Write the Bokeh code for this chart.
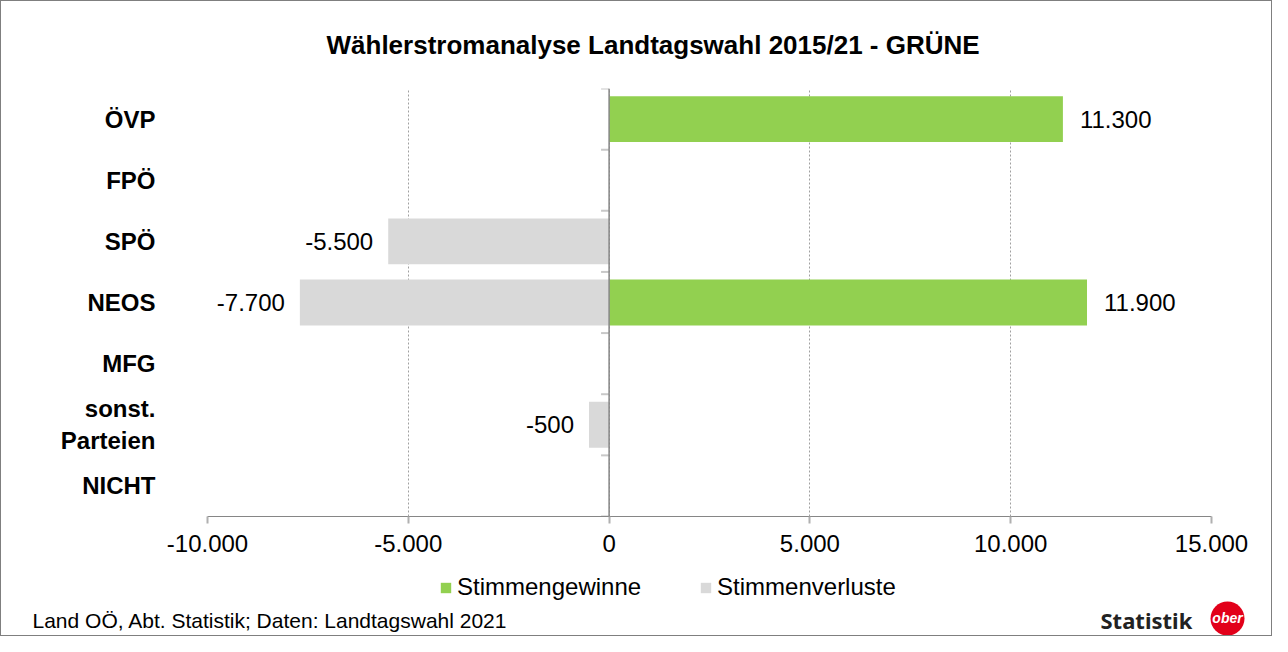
from bokeh.plotting import figure
from bokeh.models import (Range1d, FixedTicker, Span, Label, Legend, LegendItem,
                          ColumnDataSource)
from bokeh.core.properties import value
from bokeh.embed import file_html
from bokeh.resources import INLINE

# ---- data ----
categories = ["ÖVP", "FPÖ", "SPÖ", "NEOS", "MFG", "sonst.\nParteien", "NICHT"]
gains = [11300, 0, 0, 11900, 0, 0, 0]          # Stimmengewinne
losses = [0, 0, -5500, -7700, 0, -500, 0]       # Stimmenverluste
series_names = ["Stimmengewinne", "Stimmenverluste"]
x_ticks = [-10000, -5000, 0, 5000, 10000, 15000]
title_text = "Wählerstromanalyse Landtagswahl 2015/21 - GRÜNE"
source_text = "Land OÖ, Abt. Statistik; Daten: Landtagswahl 2021"

def de_fmt(v):
    return f"{v:,}".replace(",", ".")

n = len(categories)
ypos = [n - i - 0.5 for i in range(n)]
FONT = "Liberation Sans"
GREEN = "#92D050"
GREY = "#D9D9D9"
BORDER = "1px solid #7f7f7f"

W = 1272
HH, HM, HF = 69, 497, 70
ML, MR, MT, MB = 206, 62, 19, 50

def strip(height, styles):
    s = figure(width=W, height=height, output_backend="svg", toolbar_location=None,
               x_range=Range1d(0, W), y_range=Range1d(0, height),
               x_axis_type=None, y_axis_type=None,
               min_border_left=0, min_border_right=0, min_border_top=0,
               min_border_bottom=0)
    s.outline_line_color = None
    s.grid.visible = False
    s.background_fill_color = "white"
    s.border_fill_color = "white"
    s.styles = styles
    return s

# ---------------- header strip: title ----------------
h = strip(HH, {"border": BORDER, "border-bottom": "none", "box-sizing": "border-box"})
h.add_layout(Label(x=325, y=26, x_units="screen", y_units="screen",
                   text=title_text, text_align="left", text_baseline="middle",
                   text_font=FONT, text_font_style="bold", text_font_size="26px",
                   text_color="#000000"))

# ---------------- main chart ----------------
p = figure(width=W, height=HM, output_backend="svg", toolbar_location=None,
           x_range=Range1d(-10000, 15000), y_range=Range1d(0, n),
           min_border_left=ML, min_border_right=MR, min_border_top=MT,
           min_border_bottom=MB)
p.outline_line_color = None
p.background_fill_color = "white"
p.border_fill_color = "white"
p.styles = {"border-left": BORDER, "border-right": BORDER, "box-sizing": "border-box"}

# x axis
p.xaxis.ticker = FixedTicker(ticks=x_ticks)
p.xaxis.major_label_overrides = {t: de_fmt(t) for t in x_ticks}
p.xaxis.axis_line_color = "#868686"
p.xaxis.major_tick_line_color = "#b0b0b0"
p.xaxis.major_tick_line_width = 2
p.xaxis.major_tick_out = 7
p.xaxis.major_tick_in = 0
p.xaxis.minor_tick_line_color = None
p.xaxis.major_label_text_font = FONT
p.xaxis.major_label_text_font_size = "24px"
p.xaxis.major_label_text_color = "#000000"
p.xaxis.major_label_standoff = 11

# y axis (labels only)
p.yaxis.ticker = FixedTicker(ticks=ypos)
p.yaxis.major_label_overrides = {y: c for y, c in zip(ypos, categories)}
p.yaxis.axis_line_color = None
p.yaxis.major_tick_line_color = None
p.yaxis.major_tick_out = 0
p.yaxis.major_tick_in = 0
p.yaxis.minor_tick_line_color = None
p.yaxis.major_label_text_font = FONT
p.yaxis.major_label_text_font_style = "bold"
p.yaxis.major_label_text_font_size = "24px"
p.yaxis.major_label_text_color = "#000000"
p.yaxis.major_label_text_align = "right"
p.yaxis.major_label_standoff = 52

# grid
p.ygrid.grid_line_color = None
p.xgrid.ticker = FixedTicker(ticks=x_ticks)
p.xgrid.grid_line_color = "#a0a0a0"
p.xgrid.grid_line_dash = "2 2"

# bars
src = ColumnDataSource(dict(y=ypos, gains=gains, losses=losses))
p.hbar(y="y", left=0, right="gains", height=0.75, source=src,
       fill_color=GREEN, line_color=None)
p.hbar(y="y", left=0, right="losses", height=0.75, source=src,
       fill_color=GREY, line_color=None)

# zero axis line with category tick marks
p.add_layout(Span(location=0, dimension="height", line_color="#868686", line_width=1.5))
p.segment(x0=[-200] * (n + 1), x1=[0] * (n + 1), y0=list(range(n + 1)),
          y1=list(range(n + 1)), line_color="#c8c8c8", line_width=2)

# value labels
gx = [g for g in gains if g != 0]
gy = [y for g, y in zip(gains, ypos) if g != 0]
p.text(x=gx, y=gy, text=[de_fmt(v) for v in gx], x_offset=17,
       text_align="left", text_baseline="middle", text_font=value(FONT),
       text_font_size="24px", text_color="#000000")
lx = [l for l in losses if l != 0]
ly = [y for l, y in zip(losses, ypos) if l != 0]
p.text(x=lx, y=ly, text=[de_fmt(v) for v in lx], x_offset=-15,
       text_align="right", text_baseline="middle", text_font=value(FONT),
       text_font_size="24px", text_color="#000000")

# ---------------- footer strip: legend, source, logo ----------------
f = strip(HF, {"border": BORDER, "border-top": "none", "box-sizing": "border-box"})

nan = float("nan")
lg_g = f.quad(left=[nan], right=[nan], top=[nan], bottom=[nan],
              fill_color=GREEN, line_color=None)
lg_l = f.quad(left=[nan], right=[nan], top=[nan], bottom=[nan],
              fill_color=GREY, line_color=None)
legend = Legend(items=[LegendItem(label=series_names[0], renderers=[lg_g]),
                       LegendItem(label=series_names[1], renderers=[lg_l])],
                orientation="horizontal", location=(438, 35),
                glyph_width=13, glyph_height=13, label_standoff=5, spacing=58,
                padding=0, margin=0, border_line_color=None,
                background_fill_alpha=0,
                label_text_font=FONT, label_text_font_size="24px",
                label_text_color="#000000")
f.add_layout(legend, "center")

f.add_layout(Label(x=31, y=16, x_units="screen", y_units="screen",
                   text=source_text, text_align="left", text_baseline="middle",
                   text_font=FONT, text_font_size="21px", text_color="#000000"))
f.add_layout(Label(x=1099, y=17, x_units="screen", y_units="screen",
                   text="Statistik", text_align="left", text_baseline="middle",
                   text_font="Noto Sans", text_font_style="bold",
                   text_font_size="22px", text_color="#222222"))
f.scatter(x=[1226], y=[18], size=34, marker="circle", fill_color="#E2001A",
          line_color=None)
f.add_layout(Label(x=1226, y=19, x_units="screen", y_units="screen",
                   text="ober", text_align="center", text_baseline="middle",
                   text_font=FONT, text_font_style="bold italic",
                   text_font_size="14px", text_color="white"))

open("out.html", "w").write(file_html([h, p, f], INLINE))
